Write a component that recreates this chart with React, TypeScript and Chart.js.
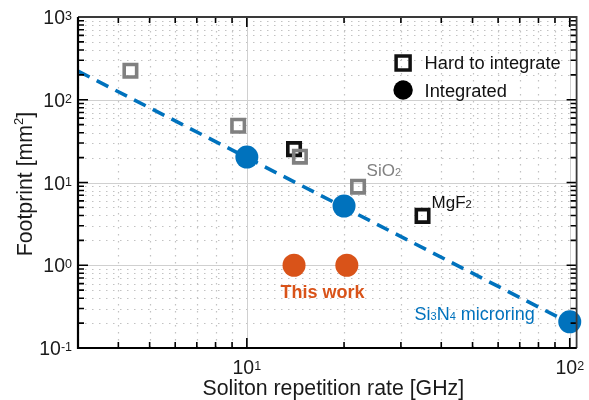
import React, { useEffect, useRef } from 'react';
import { Chart, registerables } from 'chart.js';

Chart.register(...registerables);

// ---- data ----
const hardGrayX = [4.36, 9.4, 14.6, 22.1];
const hardGrayY = [224, 48.5, 20.5, 8.9];
const hardBlackX = [14.0, 35.0];
const hardBlackY = [25.3, 3.95];
const integratedX = [10, 20, 100];
const integratedY = [20.3, 5.2, 0.207];
const thisWorkX = [14, 20.4];
const thisWorkY = [1, 1];
const trendX = [3, 100];
const trendY = [222, 0.2];
const xTickExponents = [1, 2];
const yTickExponents = [-1, 0, 1, 2, 3];
const legendLabels = ['Hard to integrate', 'Integrated'];
const xTitle = 'Soliton repetition rate [GHz]';

const BLUE = '#0072BD';
const ORANGE = '#D95319';
const GRAY = '#808080';
const BLACK = '#111111';
const FONT = '"Liberation Sans", Arial, Helvetica, sans-serif';

const pts = (xs: number[], ys: number[]) => xs.map((x, i) => ({ x, y: ys[i] }));

type Seg = { t: string; size: number; dy: number; bold?: boolean };

function fontOf(s: Seg) {
  return `${s.bold ? 'bold ' : ''}${s.size}px ${FONT}`;
}
function richWidth(ctx: CanvasRenderingContext2D, segs: Seg[]) {
  let w = 0;
  for (const s of segs) {
    ctx.font = fontOf(s);
    w += ctx.measureText(s.t).width;
  }
  return w;
}
function drawRich(
  ctx: CanvasRenderingContext2D,
  segs: Seg[],
  x: number,
  y: number,
  align: 'left' | 'center' | 'right',
  color: string
) {
  const w = richWidth(ctx, segs);
  let cx = align === 'left' ? x : align === 'center' ? x - w / 2 : x - w;
  ctx.fillStyle = color;
  ctx.textAlign = 'left';
  ctx.textBaseline = 'alphabetic';
  for (const s of segs) {
    ctx.font = fontOf(s);
    ctx.fillText(s.t, cx, y + s.dy);
    cx += ctx.measureText(s.t).width;
  }
}

function logValues(min: number, max: number) {
  const out: { v: number; major: boolean }[] = [];
  for (let e = Math.floor(Math.log10(min)); e <= Math.ceil(Math.log10(max)); e++) {
    for (let m = 1; m <= 9; m++) {
      const v = m * Math.pow(10, e);
      if (v >= min * 0.9999 && v <= max * 1.0001) out.push({ v: parseFloat(v.toPrecision(6)), major: m === 1 });
    }
  }
  return out;
}

const framePlugin = {
  id: 'frame',
  beforeDatasetsDraw(chart: any) {
    const { ctx, chartArea: a, scales } = chart;
    const xs = scales.x, ys = scales.y;
    ctx.save();
    ctx.beginPath();
    ctx.rect(a.left, a.top, a.right - a.left, a.bottom - a.top);
    ctx.clip();
    // minor dotted
    ctx.lineWidth = 1.2;
    ctx.strokeStyle = '#c2c2c2';
    ctx.setLineDash([1.5, 5.5]);
    for (const t of logValues(xs.min, xs.max)) {
      if (t.major) continue;
      const px = Math.round(xs.getPixelForValue(t.v)) + 0.5;
      ctx.beginPath(); ctx.moveTo(px, a.top); ctx.lineTo(px, a.bottom); ctx.stroke();
    }
    for (const t of logValues(ys.min, ys.max)) {
      if (t.major) continue;
      const py = Math.round(ys.getPixelForValue(t.v)) + 0.5;
      ctx.beginPath(); ctx.moveTo(a.left, py); ctx.lineTo(a.right, py); ctx.stroke();
    }
    // major solid
    ctx.setLineDash([]);
    ctx.lineWidth = 1;
    ctx.strokeStyle = '#d0d0d0';
    for (const t of logValues(xs.min, xs.max)) {
      if (!t.major) continue;
      const px = Math.round(xs.getPixelForValue(t.v)) + 0.5;
      ctx.beginPath(); ctx.moveTo(px, a.top); ctx.lineTo(px, a.bottom); ctx.stroke();
    }
    for (const t of logValues(ys.min, ys.max)) {
      if (!t.major) continue;
      const py = Math.round(ys.getPixelForValue(t.v)) + 0.5;
      ctx.beginPath(); ctx.moveTo(a.left, py); ctx.lineTo(a.right, py); ctx.stroke();
    }
    ctx.restore();
  },
  afterDraw(chart: any) {
    const { ctx, chartArea: a, scales } = chart;
    const xs = scales.x, ys = scales.y;
    ctx.save();
    // ticks (inward, all sides)
    ctx.strokeStyle = '#000';
    ctx.lineWidth = 1.6;
    for (const t of logValues(xs.min, xs.max)) {
      const px = xs.getPixelForValue(t.v);
      const len = t.major ? 10 : 6;
      ctx.beginPath();
      ctx.moveTo(px, a.bottom); ctx.lineTo(px, a.bottom - len);
      ctx.moveTo(px, a.top); ctx.lineTo(px, a.top + len);
      ctx.stroke();
    }
    for (const t of logValues(ys.min, ys.max)) {
      const py = ys.getPixelForValue(t.v);
      const len = t.major ? 10 : 6;
      ctx.beginPath();
      ctx.moveTo(a.left, py); ctx.lineTo(a.left + len, py);
      ctx.moveTo(a.right, py); ctx.lineTo(a.right - len, py);
      ctx.stroke();
    }
    // box
    ctx.strokeStyle = '#3a3a3a';
    ctx.lineWidth = 1.8;
    ctx.beginPath();
    ctx.moveTo(a.left, a.top); ctx.lineTo(a.right, a.top); ctx.lineTo(a.right, a.bottom);
    ctx.stroke();
    ctx.strokeStyle = '#000';
    ctx.lineWidth = 2.2;
    ctx.beginPath();
    ctx.moveTo(a.left, a.top); ctx.lineTo(a.left, a.bottom); ctx.lineTo(a.right, a.bottom);
    ctx.stroke();

    // tick labels
    for (const e of yTickExponents) {
      const py = ys.getPixelForValue(Math.pow(10, e));
      drawRich(ctx, [
        { t: '10', size: 19.5, dy: 7 },
        { t: String(e), size: 12.5, dy: 3 },
      ], a.left - 6, py, 'right', '#1a1a1a');
    }
    for (const e of xTickExponents) {
      const px = xs.getPixelForValue(Math.pow(10, e));
      drawRich(ctx, [
        { t: '10', size: 19.5, dy: 0 },
        { t: String(e), size: 12.5, dy: -3.5 },
      ], px, a.bottom + 25.5, 'center', '#1a1a1a');
    }

    // axis titles
    drawRich(ctx, [{ t: xTitle, size: 21.3, dy: 0 }], (a.left + a.right) / 2 + 6, 394.5, 'center', '#1a1a1a');
    ctx.save();
    ctx.translate(31.7, (a.top + a.bottom) / 2 + 1.5);
    ctx.rotate(-Math.PI / 2);
    drawRich(ctx, [
      { t: 'Footprint [mm', size: 21.3, dy: 0 },
      { t: '2', size: 13, dy: -9 },
      { t: ']', size: 21.3, dy: 0 },
    ], 0, 0, 'center', '#1a1a1a');
    ctx.restore();

    // annotations anchored to data points
    const sx = xs.getPixelForValue(hardGrayX[3]);
    const sy = ys.getPixelForValue(hardGrayY[3]);
    drawRich(ctx, [
      { t: 'SiO', size: 17, dy: 0 },
      { t: '2', size: 11, dy: 0 },
    ], sx + 8.5, sy - 10.5, 'left', GRAY);

    const mx = xs.getPixelForValue(hardBlackX[1]);
    const my = ys.getPixelForValue(hardBlackY[1]);
    drawRich(ctx, [
      { t: 'MgF', size: 17, dy: 0 },
      { t: '2', size: 11, dy: 0 },
    ], mx + 9, my - 7.5, 'left', BLACK);

    const nx = xs.getPixelForValue(integratedX[2]);
    const ny = ys.getPixelForValue(integratedY[2]);
    drawRich(ctx, [
      { t: 'Si', size: 18, dy: 0 },
      { t: '3', size: 11, dy: 0 },
      { t: 'N', size: 18, dy: 0 },
      { t: '4', size: 11, dy: 0 },
      { t: ' microring', size: 18, dy: 0 },
    ], nx - 35, ny - 1.5, 'right', BLUE);

    const tx = (xs.getPixelForValue(thisWorkX[0]) + xs.getPixelForValue(thisWorkX[1])) / 2;
    const ty = ys.getPixelForValue(thisWorkY[0]);
    drawRich(ctx, [{ t: 'This work', size: 18, dy: 0, bold: true }], tx + 2, ty + 33, 'center', ORANGE);

    // legend
    const lx = a.right - 173.5;
    const l1 = a.top + 46;
    const l2 = a.top + 73;
    ctx.strokeStyle = BLACK;
    ctx.lineWidth = 3.5;
    ctx.strokeRect(lx - 7, l1 - 7, 14, 14);
    ctx.fillStyle = '#000';
    ctx.beginPath();
    ctx.arc(lx, l2, 9.7, 0, Math.PI * 2);
    ctx.fill();
    drawRich(ctx, [{ t: legendLabels[0], size: 18.3, dy: 0 }], lx + 21.5, l1 + 5.5, 'left', '#111');
    drawRich(ctx, [{ t: legendLabels[1], size: 18.3, dy: 0 }], lx + 21.5, l2 + 6.5, 'left', '#111');

    ctx.restore();
  },
};

export default function App() {
  const ref = useRef<HTMLCanvasElement>(null);
  useEffect(() => {
    document.body.style.margin = '0';
    const canvas = ref.current!;
    const chart = new Chart(canvas, {
      type: 'scatter',
      data: {
        datasets: [
          {
            label: 'trend',
            data: pts(trendX, trendY),
            showLine: true,
            borderColor: BLUE,
            borderWidth: 3.6,
            borderDash: [13, 8],
            pointRadius: 0,
            pointHoverRadius: 0,
            order: 5,
          } as any,
          {
            label: 'hard black',
            data: pts(hardBlackX, hardBlackY),
            pointStyle: 'rect',
            pointRadius: 8.8,
            pointHoverRadius: 8.8,
            borderWidth: 3.6,
            borderColor: BLACK,
            backgroundColor: 'rgba(0,0,0,0)',
            order: 4,
            clip: false,
          },
          {
            label: 'hard gray',
            data: pts(hardGrayX, hardGrayY),
            pointStyle: 'rect',
            pointRadius: 8.8,
            pointHoverRadius: 8.8,
            borderWidth: 3.6,
            borderColor: GRAY,
            backgroundColor: 'rgba(0,0,0,0)',
            order: 3,
            clip: false,
          },
          {
            label: 'integrated',
            data: pts(integratedX, integratedY),
            pointStyle: 'circle',
            pointRadius: 11.5,
            pointHoverRadius: 11.5,
            borderWidth: 0,
            backgroundColor: BLUE,
            order: 1,
            clip: false,
          },
          {
            label: 'this work',
            data: pts(thisWorkX, thisWorkY),
            pointStyle: 'circle',
            pointRadius: 11.5,
            pointHoverRadius: 11.5,
            borderWidth: 0,
            backgroundColor: ORANGE,
            order: 1,
            clip: false,
          },
        ],
      },
      options: {
        animation: false,
        responsive: false,
        events: [],
        layout: { padding: { left: 78, top: 17, right: 9, bottom: 52 } },
        scales: {
          x: { type: 'logarithmic', min: 3, max: 105, display: false },
          y: { type: 'logarithmic', min: 0.1, max: 1000, display: false },
        },
        plugins: {
          legend: { display: false },
          tooltip: { enabled: false },
        },
      },
      plugins: [framePlugin],
    });
    return () => chart.destroy();
  }, []);
  return (
    <div style={{ width: 589, height: 400 }}>
      <canvas ref={ref} width={589} height={400} style={{ display: 'block' }} />
    </div>
  );
}
